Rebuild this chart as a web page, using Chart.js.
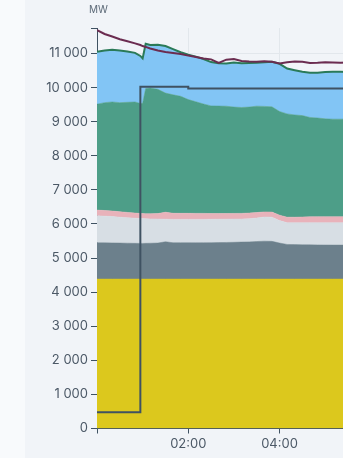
<!DOCTYPE html>
<html>
<head>
<meta charset="utf-8">
<script src="https://cdn.jsdelivr.net/npm/chart.js@4.4.0/dist/chart.umd.min.js"></script>
<style>
  html, body { margin: 0; padding: 0; width: 343px; height: 458px; overflow: hidden; background: #f8fafc; }
  #panel { position: absolute; left: 25px; top: 0; width: 330px; height: 458px; background: #f1f4f8; }
  #chart { position: absolute; left: 0; top: 0; }
  #unit { position: absolute; left: 89px; top: 3px; font: 10px Inter, sans-serif; color: #5d6a78; }
</style>
</head>
<body>
<div id="panel"></div>
<canvas id="chart" width="348" height="458"></canvas>
<div id="unit">MW</div>
<script>
// minutes after midnight
const minutes = [0, 10, 20, 30, 40, 50, 57, 60, 64, 70, 80, 90, 100, 110, 120, 130, 140, 150, 160, 170,
  180, 190, 200, 210, 220, 230, 240, 250, 260, 270, 280, 290, 300, 310, 320, 330]

// stacked production (MW)
const nuclear = minutes.map(() => 4384)
const thermal = [1065, 1063, 1061, 1056, 1052, 1048, 1046, 1046, 1048, 1051, 1056, 1094, 1066, 1066, 1066, 1065, 1066, 1068, 1071, 1074,
  1078, 1085, 1091, 1101, 1111, 1106, 1056, 1016, 1011, 1006, 1004, 1001, 999, 997, 997, 997]
const other = [793, 783, 775, 760, 749, 738, 732, 730, 723, 715, 705, 662, 685, 685, 685, 686, 685, 686, 685, 684,
  682, 676, 680, 690, 710, 710, 660, 635, 640, 645, 647, 650, 652, 654, 654, 654]
const solar = [166, 165, 160, 160, 155, 150, 148, 145, 145, 150, 160, 205, 180, 177, 177, 176, 176, 167, 165, 166,
  166, 166, 165, 160, 150, 150, 160, 165, 165, 170, 175, 177, 178, 178, 178, 178]
const hydro = [3108, 3165, 3200, 3200, 3230, 3260, 3225, 3235, 3675, 3690, 3645, 3495, 3475, 3433, 3338, 3274, 3209, 3160, 3155, 3147,
  3120, 3107, 3110, 3122, 3095, 3087, 3040, 3030, 3000, 2975, 2916, 2898, 2872, 2863, 2862, 2867]
const imports = [1534, 1530, 1535, 1530, 1490, 1440, 1395, 1316, 1315, 1260, 1310, 1380, 1340, 1295, 1315, 1325, 1320, 1285, 1255, 1255,
  1310, 1297, 1290, 1270, 1295, 1320, 1400, 1330, 1310, 1285, 1314, 1330, 1375, 1389, 1388, 1380]

// consumption line
const consumption = [11690, 11575, 11500, 11420, 11360, 11300, 11250, 11220, 11195, 11150, 11090, 11045, 11015, 10990, 10940, 10900, 10856, 10830, 10727, 10820,
  10840, 10785, 10765, 10760, 10775, 10760, 10710, 10745, 10765, 10760, 10725, 10730, 10745, 10735, 10727, 10740]

// step line
const planMinutes = [0, 57, 120, 330]
const planValues = [475, 10025, 9975, 9975]

// axis ticks
const yTickValues = [0, 1000, 2000, 3000, 4000, 5000, 6000, 7000, 8000, 9000, 10000, 11000]
const yMax = 11750
const xTickValues = [0, 120, 240]
const xMax = 330

const pts = (xs, ys) => xs.map((x, i) => ({ x: x, y: ys[i] }))

function fmtMW(v) {
  if (v % 1000 !== 0) return ''
  if (v < 1000) return String(v)
  return Math.floor(v / 1000) + ' 000'
}

function fmtTime(m) {
  if (m === 0) return ''
  const h = Math.floor(m / 60)
  return (h < 10 ? '0' : '') + h + ':00'
}

function area(data, color, fill, border) {
  return {
    type: 'line',
    data: pts(minutes, data),
    stack: 'prod',
    backgroundColor: color,
    borderColor: border || color,
    borderWidth: border ? 2 : 0.5,
    pointRadius: 0,
    fill: fill,
    tension: 0,
  }
}

const axisColor = '#3f5262'
const labelColor = '#4b5866'
const gridColor = '#e2e7ec'
const font = { family: 'Inter', size: 13 }

new Chart(document.getElementById('chart'), {
  type: 'line',
  data: {
    datasets: [
      {
        data: pts(planMinutes, planValues),
        stack: 'plan',
        borderColor: axisColor,
        borderWidth: 2,
        pointRadius: 0,
        stepped: 'before',
        fill: false,
      },
      {
        data: pts(minutes, consumption),
        stack: 'load',
        borderColor: '#6b2c50',
        borderWidth: 2,
        pointRadius: 0,
        fill: false,
      },
      area(nuclear, '#dcc81d', 'origin'),
      area(thermal, '#6c808c', '-1'),
      area(other, '#d7dee4', '-1'),
      area(solar, '#e8b2ba', '-1'),
      area(hydro, '#4d9e88', '-1'),
      area(imports, '#82c5f5', '-1', '#2a7a58'),
    ]
  },
  options: {
    responsive: false,
    animation: false,
    layout: { padding: { top: 28, right: 0, left: 0, bottom: 0 } },
    plugins: { legend: { display: false }, tooltip: { enabled: false } },
    scales: {
      x: {
        type: 'linear',
        min: 0,
        max: xMax,
        afterBuildTicks: (s) => { s.ticks = xTickValues.map(v => ({ value: v })) },
        afterFit: (s) => { s.height = 29.5 },
        border: { color: axisColor },
        grid: { color: gridColor, tickColor: axisColor, tickLength: 5 },
        ticks: { maxRotation: 0, autoSkip: false, padding: 3, color: labelColor, font: font, callback: fmtTime },
      },
      y: {
        stacked: true,
        min: 0,
        max: yMax,
        afterBuildTicks: (s) => { s.ticks = yTickValues.concat([yMax]).map(v => ({ value: v })) },
        afterFit: (s) => { s.width = 97 },
        border: { color: axisColor },
        grid: {
          color: (c) => (c.tick && c.tick.value % 1000 === 0) ? gridColor : 'transparent',
          tickColor: axisColor,
          tickLength: 6,
        },
        ticks: { autoSkip: false, padding: 3, color: labelColor, font: font, callback: fmtMW },
      }
    }
  }
})
</script>
</body>
</html>
